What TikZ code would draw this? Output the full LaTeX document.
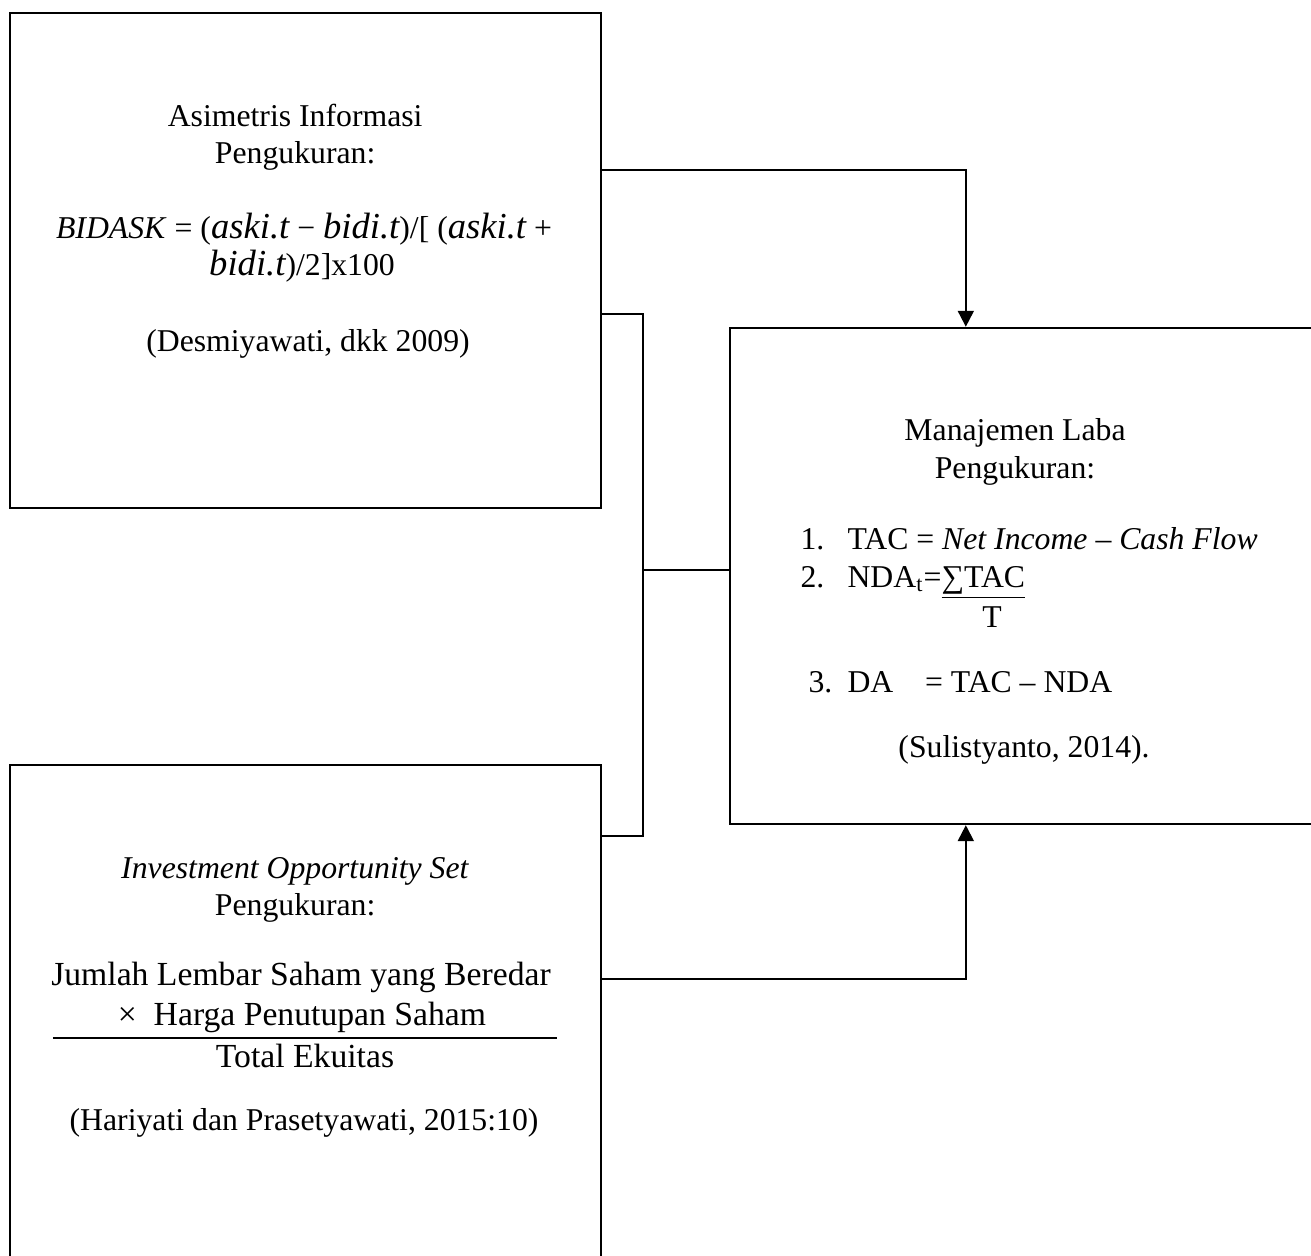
\documentclass[tikz,border=0pt]{standalone}
\usepackage{fontspec}
\setmainfont{Liberation Serif}
\usetikzlibrary{arrows.meta}

\newcommand{\varit}[1]{{\fontsize{15}{15}\selectfont\itshape #1}}

\begin{document}
\begin{tikzpicture}[
	box/.style={draw, line width=1pt, inner sep=0},
	link/.style={line width=0.8pt},
	arr/.style={line width=0.8pt, -{Triangle[width=6.5pt,length=6.5pt]}},
	txt/.style={font=\fontsize{13}{15}\selectfont, inner sep=0, text height=2ex, text depth=0.5ex},
	cam/.style={txt, font=\fontsize{13.8}{16}\selectfont}]
	\useasboundingbox (0,0) rectangle (18.878,18.086);
	\clip (0,0) rectangle (18.878,18.086);
	% the three boxes
	\node[box, minimum width=8.51cm, minimum height=7.128cm] (asim) at (4.399,14.335) {};
	\node[box, minimum width=8.51cm, minimum height=7.37cm] (ios) at (4.399,3.385) {};
	\node[box, minimum width=8.788cm, minimum height=7.142cm] (laba) at (14.906,9.792) {};

	\node[txt] (asimhead) at (4.25,16.387) {Asimetris Informasi};
	\node[txt] (asimukur) at (4.25,15.854) {Pengukuran:};
	\node[txt] (asimrum1) at (4.378,14.774) {\textit{BIDASK} = (\varit{aski.t} − \varit{bidi.t})/[ (\varit{aski.t} +};
	\node[txt] (asimrum2) at (4.349,14.242) {\varit{bidi.t})/2]x100};
	\node[txt] (asimref) at (4.435,13.147) {(Desmiyawati, dkk 2009)};

	\node[txt] (ioshead) at (4.25,5.558) {\textit{Investment Opportunity Set}};
	\node[txt] (iosukur) at (4.25,5.026) {Pengukuran:};
	\node[cam] (iosnum1) at (4.334,4.018) {Jumlah Lembar Saham yang Beredar};
	\node[cam] (iosnum2) at (4.349,3.442) {×\ \ Harga Penutupan Saham};
	\node[inner sep=0] (iosbar) at (4.392,3.139) {\rule{7.26cm}{1.1pt}};
	\node[cam] (iosden) at (4.392,2.837) {Total Ekuitas};
	\node[txt] (iosref) at (4.378,1.93) {(Hariyati dan Prasetyawati, 2015:10)};

	\node[txt] (labahead) at (14.616,11.866) {Manajemen Laba};
	\node[txt] (labaukur) at (14.616,11.318) {Pengukuran:};
	\node[txt, anchor=west] (no1) at (11.52,10.296) {1.};
	\node[txt, anchor=west] (tac) at (12.197,10.296) {TAC = \textit{Net Income – Cash Flow}};
	\node[txt, anchor=west] (no2) at (11.52,9.749) {2.};
	\node[txt, anchor=west] (nda) at (12.197,9.749) {NDA\textsubscript{t}=\underline{∑TAC}};
	\node[txt] (ndaden) at (14.285,9.166) {T};
	\node[txt, anchor=west] (no3) at (11.635,8.237) {3.};
	\node[txt, anchor=west] (da) at (12.197,8.237) {DA\hspace{1em}= TAC – NDA};
	\node[txt] (labaref) at (14.746,7.301) {(Sulistyanto, 2014).};

	% connectors
	\coordinate (join) at (9.252,9.88);
	\draw[arr] ([yshift=1.303cm]asim.east) -| ([xshift=3.413cm]laba.north west);
	\draw[link] ([yshift=-0.77cm]asim.east) -| (join);
	\draw[link] ([yshift=2.663cm]ios.east) -| (join);
	\draw[link] (join) -- (join -| laba.west);
	\draw[arr] ([yshift=0.604cm]ios.east) -| ([xshift=3.413cm]laba.south west);
\end{tikzpicture}
\end{document}
